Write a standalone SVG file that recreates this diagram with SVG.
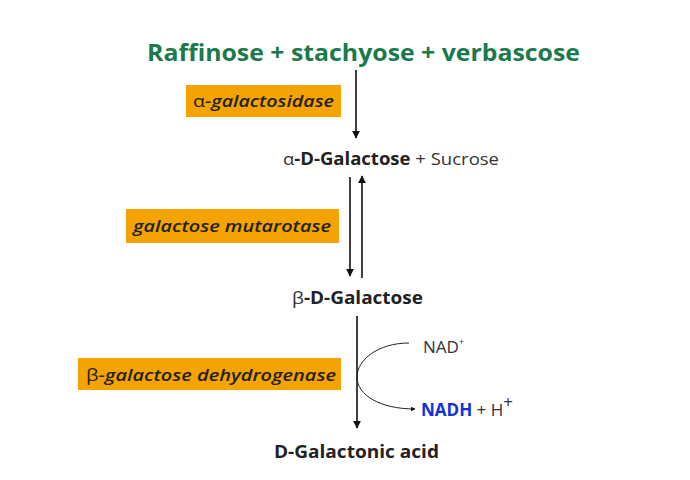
<svg xmlns="http://www.w3.org/2000/svg" width="690" height="480" viewBox="0 0 690 480">
<style>
text{font-family:"Open Sans",Lato,sans-serif;fill:#222}
.b{font-weight:bold;font-size:17px}
.l{font-weight:normal;font-size:17px;fill:#333}
.e{font-style:italic;font-weight:600;font-size:17px;fill:#222}
.box{fill:#F5A300}
.ln{stroke:#111;stroke-width:1.6;fill:none}
</style>
<defs><marker id="a" viewBox="0 0 10 10" refX="9" refY="5" markerWidth="5" markerHeight="5" orient="auto"><path d="M0,0L10,5L0,10z" fill="#111"/></marker></defs>
<rect width="690" height="480" fill="#fff"/>
<g id="title"><text x="147" y="61" textLength="433" lengthAdjust="spacingAndGlyphs" style="font-weight:bold;font-size:23px;fill:#1a7a4c">Raffinose + stachyose + verbascose</text></g>
<g id="enz1"><rect class="box" x="186" y="85" width="155" height="32"/><text class="e" x="193" y="107" textLength="141" lengthAdjust="spacingAndGlyphs"><tspan font-style="normal" font-weight="normal">α</tspan>-galactosidase</text></g>
<g id="agal"><text x="283" y="165" textLength="216" lengthAdjust="spacingAndGlyphs"><tspan class="l">α</tspan><tspan class="b">-D-Galactose</tspan><tspan class="l" font-size="15"> + </tspan><tspan class="l">Sucrose</tspan></text></g>
<g id="enz2"><rect class="box" x="126" y="209" width="213" height="34"/><text class="e" x="133" y="232" textLength="198" lengthAdjust="spacingAndGlyphs">galactose mutarotase</text></g>
<g id="bgal"><text x="292" y="304" textLength="131" lengthAdjust="spacingAndGlyphs"><tspan class="l">β</tspan><tspan class="b">-D-Galactose</tspan></text></g>
<g id="enz3"><rect class="box" x="78" y="358" width="263" height="32"/><text class="e" x="86" y="381" textLength="250" lengthAdjust="spacingAndGlyphs"><tspan font-style="normal" font-weight="normal">β</tspan>-galactose dehydrogenase</text></g>
<g id="nad"><text class="l" x="423" y="353">NAD<tspan font-size="9" dy="-8">+</tspan></text></g>
<g id="nadh"><text x="421" y="416"><tspan class="b" style="fill:#1030e0">NADH</tspan><tspan class="l" font-size="15"> + </tspan><tspan class="l">H</tspan><tspan class="l" font-size="9" dy="-8">+</tspan></text></g>
<g id="acid"><text class="b" x="274" y="458" textLength="165" lengthAdjust="spacingAndGlyphs">D-Galactonic acid</text></g>
<g id="connectors">
<line class="ln" x1="356" y1="70" x2="356" y2="138" marker-end="url(#a)"/>
<line class="ln" x1="350" y1="177" x2="350" y2="276" marker-end="url(#a)"/>
<line class="ln" x1="362" y1="278" x2="362" y2="176" marker-end="url(#a)"/>
<line class="ln" x1="357" y1="316" x2="357" y2="428" marker-end="url(#a)"/>
<path d="M409,343 C378,343 357,360 357,377 C357,395 380,409 415,409" stroke="#222" stroke-width="1" fill="none" marker-end="url(#a)"/>
</g>
</svg>
